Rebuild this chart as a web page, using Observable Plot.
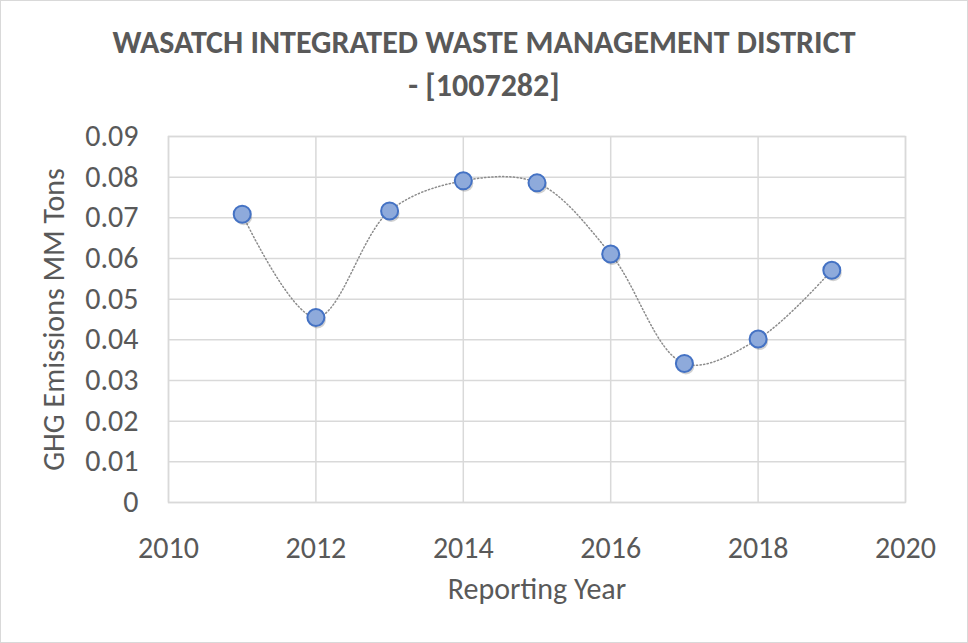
<!DOCTYPE html>
<html>
<head>
<meta charset="utf-8">
<script src="https://cdn.jsdelivr.net/npm/d3@7"></script>
<script src="https://cdn.jsdelivr.net/npm/@observablehq/plot@0.6"></script>
<style>
  html, body { margin: 0; padding: 0; background: #fff; }
  #wrap { position: relative; width: 966px; height: 641px; border: 1px solid #d9d9d9; overflow: hidden; font-family: Carlito, Calibri, "Open Sans", sans-serif; }
  #title { position: absolute; left: 0; top: 0; width: 966px; text-align: center; color: #595959; font-weight: bold; font-size: 32px; line-height: 43px; padding-top: 20px; }
  #chart { position: absolute; left: 0; top: 0; }
</style>
</head>
<body>
<div id="wrap">
  <div id="chart"></div>
  <div id="title">WASATCH INTEGRATED WASTE MANAGEMENT DISTRICT<br>- [1007282]</div>
</div>
<script>
const years = [2011, 2012, 2013, 2014, 2015, 2016, 2017, 2018, 2019];
const emissions = [0.0709, 0.0455, 0.0717, 0.0791, 0.0786, 0.0611, 0.0342, 0.0402, 0.0571];
const xTicks = [2010, 2012, 2014, 2016, 2018, 2020];
const yTicks = [0, 0.01, 0.02, 0.03, 0.04, 0.05, 0.06, 0.07, 0.08, 0.09];
const xTitle = "Reporting Year";
const yTitle = "GHG Emissions MM Tons";

const data = years.map((y, i) => ({year: y, value: emissions[i]}));

const fontFam = 'Carlito, Calibri, "Open Sans", sans-serif';

const chart = Plot.plot({
  width: 966,
  height: 641,
  marginLeft: 167,
  marginRight: 62,
  marginTop: 135,
  marginBottom: 140,
  style: {fontFamily: fontFam, fontSize: "30px", color: "#595959", background: "transparent"},
  x: {domain: [2010, 2020], ticks: xTicks, tickFormat: d => String(d), tickSize: 0, tickPadding: 34, label: xTitle, labelArrow: "none", labelAnchor: "center", labelOffset: 96},
  y: {domain: [0, 0.09], ticks: yTicks, tickFormat: d => d === 0 ? "0" : d.toFixed(2), tickSize: 0, tickPadding: 30, label: yTitle, labelArrow: "none", labelAnchor: "center", labelOffset: 126},
  marks: [
    Plot.gridX(xTicks, {stroke: "#d9d9d9", strokeOpacity: 1, strokeWidth: 1.5}),
    Plot.gridY(yTicks, {stroke: "#d9d9d9", strokeOpacity: 1, strokeWidth: 1.5}),
    Plot.frame({stroke: "#d9d9d9", strokeWidth: 1.5}),
    Plot.line(data, {x: "year", y: "value", curve: "catmull-rom", stroke: "#8c8c8c", strokeWidth: 1.5, strokeDasharray: "1.2,2.4"}),
    Plot.dot(data, {x: "year", y: "value", r: 8.5, fill: "#000", fillOpacity: 0.18, stroke: "none", dx: 1.5, dy: 2.5}),
    Plot.dot(data, {x: "year", y: "value", r: 8.5, fill: "#8eaadb", stroke: "#4472c4", strokeWidth: 2})
  ]
});
document.getElementById("chart").appendChild(chart);
</script>
</body>
</html>
